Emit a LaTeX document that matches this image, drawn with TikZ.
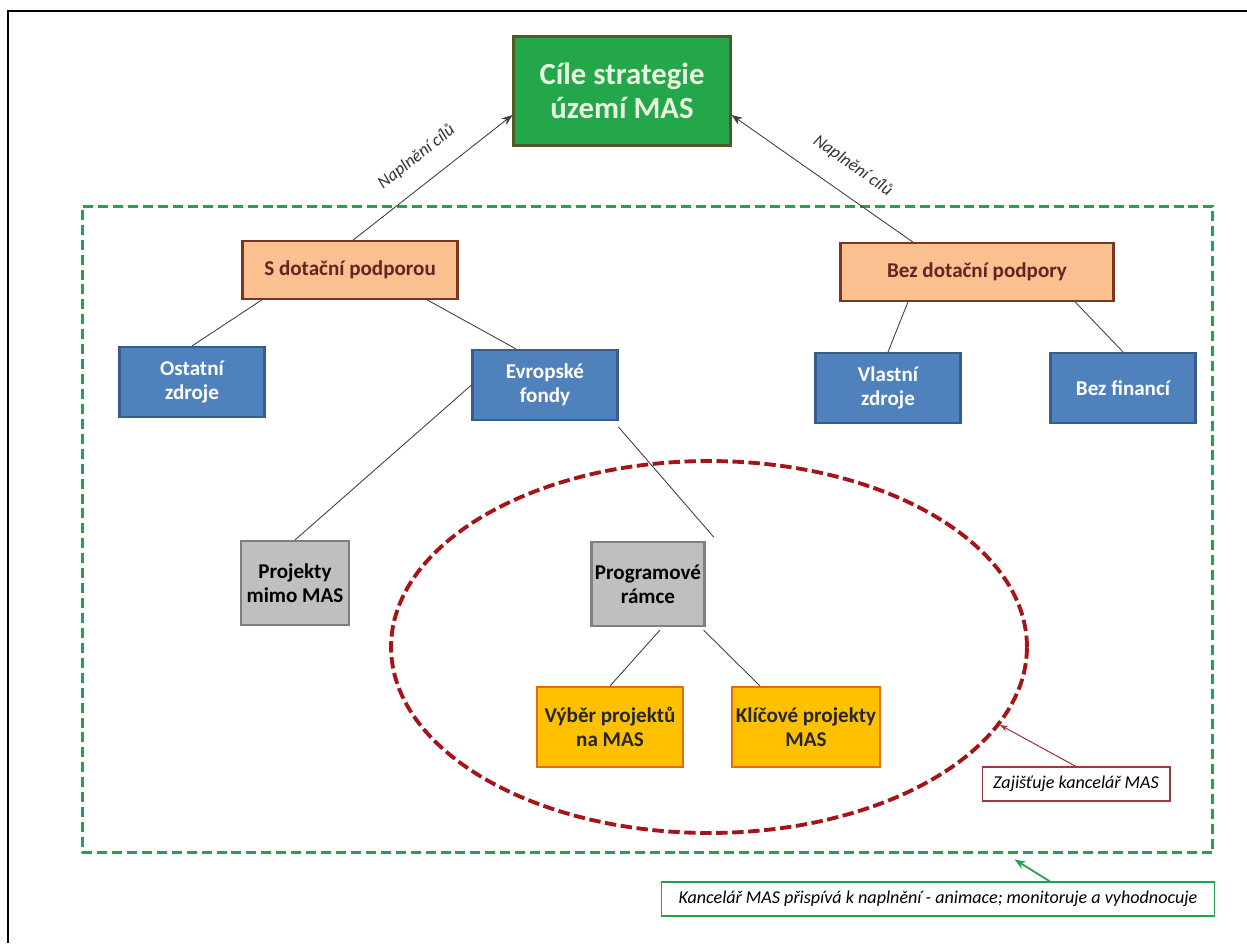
\documentclass[tikz,border=0pt]{standalone}
\usepackage{fontspec}
\setmainfont{Carlito}
\usetikzlibrary{positioning, arrows.meta, shapes.geometric, calc}
\definecolor{boxblue}{RGB}{79,129,189}
\definecolor{blueline}{RGB}{56,93,138}
\definecolor{peach}{RGB}{250,192,144}
\definecolor{peachline}{RGB}{120,55,30}
\definecolor{peachtext}{RGB}{99,37,35}
\definecolor{goalgreen}{RGB}{36,166,74}
\definecolor{goalline}{RGB}{79,90,40}
\definecolor{goaltext}{RGB}{232,245,222}
\definecolor{greybox}{RGB}{191,191,191}
\definecolor{greyline}{RGB}{127,127,127}
\definecolor{gold}{RGB}{255,192,0}
\definecolor{goldline}{RGB}{228,108,10}
\definecolor{dashgreen}{RGB}{35,160,80}
\definecolor{dashred}{RGB}{165,20,25}
\definecolor{noteline}{RGB}{160,55,65}
\tikzset{
  >={Stealth[length=2.2mm]},
  base/.style={draw, line width=1.2pt, align=center, inner sep=2pt, font=\fontsize{12}{13.5}\selectfont\bfseries},
  goal/.style={base, fill=goalgreen, draw=goalline, text=goaltext, minimum width=4.34cm, minimum height=2.18cm, font=\fontsize{17.5}{19.5}\selectfont\bfseries},
  funding/.style={base, fill=peach, draw=peachline, text=peachtext, minimum height=1.15cm},
  source/.style={base, fill=boxblue, draw=blueline, text=white, minimum width=2.9cm, minimum height=1.4cm},
  project/.style={base, fill=greybox, draw=greyline, text=black, minimum width=2.15cm, minimum height=1.68cm},
  local/.style={base, fill=gold, draw=goldline, text=black!85, minimum width=2.92cm, minimum height=1.6cm},
  note/.style={draw, line width=0.6pt, fill=white, font=\fontsize{10.3}{12}\selectfont\itshape, minimum height=0.68cm, inner xsep=6pt},
  link/.style={draw=black!75, line width=0.5pt},
  lbl/.style={font=\fontsize{10}{12}\selectfont\itshape, text=black!80},
}

\begin{document}
\begin{tikzpicture}[x=0.02cm, y=-0.02cm]
  \useasboundingbox (0,0) rectangle (1247,943);
  \draw[line width=1.7pt] (8,943) -- (8,11) -- (1247,11);

  % ramce
  \node[draw=dashgreen, line width=1.7pt, dash pattern=on 5.7pt off 2.8pt, inner sep=0pt, minimum width=22.62cm, minimum height=12.94cm] (frame) at (647.5,529.5) {};
  \node[draw=dashred, ellipse, line width=2.2pt, dash pattern=on 6.5pt off 2.6pt, inner sep=0pt, minimum width=12.72cm, minimum height=7.44cm] (ring) at (709,647) {};

  % uzly
  \node[goal] (goal) at (622,91) {Cíle strategie\\území MAS};
  \node[funding, minimum width=4.3cm] (sdot) at (350,270) {S dotační podporou};
  \node[funding, minimum width=5.46cm] (bez) at (977,272) {Bez dotační podpory};
  \node[source] (ost) at (192,382) {Ostatní\\zdroje};
  \node[source] (evr) at (545,385) {Evropské\\fondy};
  \node[source] (vla) at (888,388) {Vlastní\\zdroje};
  \node[source] (fin) at (1123,388) {Bez financí};
  \node[project] (proj) at (295,583) {Projekty\\mimo MAS};
  \node[project] (prog) at (648,584) {Programové\\rámce};
  \node[local] (vyb) at (610,727) {Výběr projektů\\na MAS};
  \node[local] (kli) at (806,727) {Klíčové projekty\\MAS};
  \node[note, draw=noteline, minimum width=3.76cm] (zaj) at (1076,784) {Zajišťuje kancelář MAS};
  \node[note, draw=dashgreen, minimum width=11.06cm] (kanc) at (938,899) {Kancelář MAS přispívá k naplnění - animace; monitoruje a vyhodnocuje};

  % spojnice
  \draw[->, link] ($(sdot.north)+(3,0)$) -- ($(goal.west)+(0,24)$) node[midway, above=7pt, sloped, lbl] {Naplnění cílů};
  \draw[->, link] ($(bez.north)+(-64,0)$) -- ($(goal.east)+(0,24)$) node[pos=0.42, above=8pt, sloped, lbl] {Naplnění cílů};
  \draw[link] ($(sdot.south)+(-88,0)$) -- (ost.north);
  \draw[link] ($(sdot.south)+(77,0)$) -- ($(evr.north)+(-29,0)$);
  \draw[link] ($(bez.south)+(-69,0)$) -- (vla.north);
  \draw[link] ($(bez.south)+(98,0)$) -- (fin.north);
  \draw[link] (evr.west) -- (proj.north);
  \draw[link] ($(evr.south east)+(0,6)$) -- ($(prog.north east)+(8,-4)$);
  \draw[link] ($(prog.south)+(12,3)$) -- (vyb.north);
  \draw[link] ($(prog.south east)+(-2,3)$) -- ($(kli.north)+(-46,0)$);
  \draw[->, noteline, line width=0.6pt, >={Stealth[length=1.6mm]}] (zaj.north) -- (ring.-15);
  \draw[->, dashgreen, line width=1pt] ($(kanc.north)+(112,0)$) -- ($(frame.south)+(367,5)$);
\end{tikzpicture}
\end{document}
